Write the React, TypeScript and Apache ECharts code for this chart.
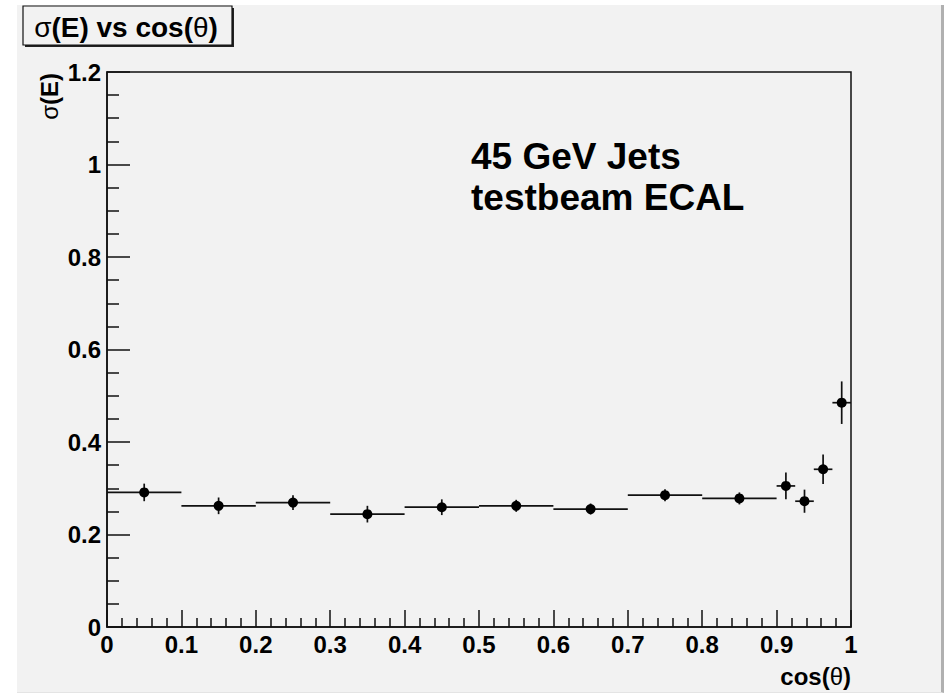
import React, { useEffect, useRef } from "react";
import * as echarts from "echarts";

// Bin centres in cos(theta), bin half-widths, and the measured sigma(E) with its error
const binCenters = [0.05, 0.15, 0.25, 0.35, 0.45, 0.55, 0.65, 0.75, 0.85, 0.9125, 0.9375, 0.9625, 0.9875];
const binHalfWidths = [0.05, 0.05, 0.05, 0.05, 0.05, 0.05, 0.05, 0.05, 0.05, 0.0125, 0.0125, 0.0125, 0.0125];
const sigmaE = [0.291, 0.262, 0.269, 0.244, 0.259, 0.262, 0.255, 0.285, 0.278, 0.305, 0.272, 0.341, 0.485];
const sigmaErr = [0.019, 0.018, 0.016, 0.018, 0.017, 0.013, 0.012, 0.013, 0.013, 0.029, 0.025, 0.032, 0.046];

const FONT = "'Liberation Sans', Arial, Helvetica, sans-serif";
const INK = "#111";

export default function App() {
  const ref = useRef<HTMLDivElement>(null);

  useEffect(() => {
    if (!ref.current) return;
    const chart = echarts.init(ref.current, undefined, { renderer: "svg" });

    const points = binCenters.map((x, i) => [x, sigmaE[i], binHalfWidths[i], sigmaErr[i]]);

    const tickLabel = { color: "#000", fontFamily: FONT, fontWeight: "bold" as const, fontSize: 24 };

    chart.setOption({
      animation: false,
      backgroundColor: "transparent",
      grid: {
        left: 107,
        right: 98,
        top: 72,
        bottom: 68,
        show: true,
        borderColor: INK,
        borderWidth: 1.5,
        backgroundColor: "transparent",
      },
      xAxis: {
        type: "value",
        min: 0,
        max: 1,
        interval: 0.1,
        axisLine: { show: true, lineStyle: { color: INK, width: 1.5 } },
        axisTick: { show: true, inside: true, length: 17, lineStyle: { color: INK, width: 1.5 } },
        minorTick: { show: true, splitNumber: 5, length: 9, lineStyle: { color: INK, width: 1.5 } },
        splitLine: { show: false },
        axisLabel: { ...tickLabel, margin: 5 },
      },
      yAxis: {
        type: "value",
        min: 0,
        max: 1.2,
        interval: 0.2,
        axisLine: { show: true, lineStyle: { color: INK, width: 1.5 } },
        axisTick: { show: true, inside: true, length: 23, lineStyle: { color: INK, width: 1.5 } },
        minorTick: { show: true, splitNumber: 4, length: 12, lineStyle: { color: INK, width: 1.5 } },
        splitLine: { show: false },
        axisLabel: { ...tickLabel, margin: 6 },
      },
      series: [
        {
          type: "custom",
          data: points,
          encode: { x: 0, y: 1 },
          renderItem: (_params: any, api: any) => {
            const x = api.value(0);
            const y = api.value(1);
            const hw = api.value(2);
            const e = api.value(3);
            const left = api.coord([x - hw, y]);
            const right = api.coord([x + hw, y]);
            const top = api.coord([x, y + e]);
            const bottom = api.coord([x, y - e]);
            const c = api.coord([x, y]);
            return {
              type: "group",
              children: [
                {
                  type: "line",
                  shape: { x1: left[0], y1: left[1], x2: right[0], y2: right[1] },
                  style: { stroke: INK, lineWidth: 1.7 },
                },
                {
                  type: "line",
                  shape: { x1: top[0], y1: top[1], x2: bottom[0], y2: bottom[1] },
                  style: { stroke: INK, lineWidth: 1.7 },
                },
                {
                  type: "circle",
                  shape: { cx: c[0], cy: c[1], r: 5 },
                  style: { fill: "#000" },
                },
              ],
            };
          },
        },
      ],
      graphic: [
        // histogram title box with drop shadow
        {
          type: "rect",
          shape: { x: 25, y: 8, width: 209, height: 39 },
          style: { fill: "#222" },
        },
        {
          type: "rect",
          shape: { x: 23, y: 6, width: 209, height: 39 },
          style: { fill: "#f2f2f2", stroke: INK, lineWidth: 1.2 },
        },
        {
          type: "text",
          x: 126,
          y: 27,
          style: {
            text: "{n|σ}{b|(E) vs cos(}{n|θ}{b|)}",
            align: "center",
            verticalAlign: "middle",
            rich: {
              n: { fontFamily: FONT, fontSize: 28, fill: "#000", fontWeight: "normal" },
              b: { fontFamily: FONT, fontSize: 28, fill: "#000", fontWeight: "bold" },
            },
          },
        },
        // y axis title
        {
          type: "text",
          x: 49,
          y: 73,
          rotation: Math.PI / 2,
          style: {
            text: "{n|σ}{b|(E)}",
            align: "right",
            verticalAlign: "middle",
            rich: {
              n: { fontFamily: FONT, fontSize: 24, fill: "#000", fontWeight: "normal" },
              b: { fontFamily: FONT, fontSize: 24, fill: "#000", fontWeight: "bold" },
            },
          },
        },
        // x axis title
        {
          type: "text",
          x: 851,
          y: 676,
          style: {
            text: "{b|cos(}{n|θ}{b|)}",
            align: "right",
            verticalAlign: "middle",
            rich: {
              n: { fontFamily: FONT, fontSize: 24, fill: "#000", fontWeight: "normal" },
              b: { fontFamily: FONT, fontSize: 24, fill: "#000", fontWeight: "bold" },
            },
          },
        },
        // annotation
        {
          type: "text",
          x: 471,
          y: 136,
          style: {
            text: "45 GeV Jets\ntestbeam ECAL",
            fontFamily: FONT,
            fontWeight: "bold",
            fontSize: 37,
            lineHeight: 41,
            fill: "#000",
            align: "left",
            verticalAlign: "top",
          },
        },
      ],
    });

    return () => chart.dispose();
  }, []);

  return (
    <div style={{ position: "absolute", left: 0, top: 0, width: 949, height: 695, background: "#fff", overflow: "hidden" }}>
      <div
        style={{
          position: "absolute",
          left: 17,
          top: 5,
          width: 924,
          height: 687,
          background: "#f2f2f2",
          borderRight: "3px solid #b0b0b0",
          borderBottom: "1px solid #e4e4e4",
        }}
      />
      <div ref={ref} style={{ position: "absolute", left: 0, top: 0, width: 949, height: 695 }} />
    </div>
  );
}
